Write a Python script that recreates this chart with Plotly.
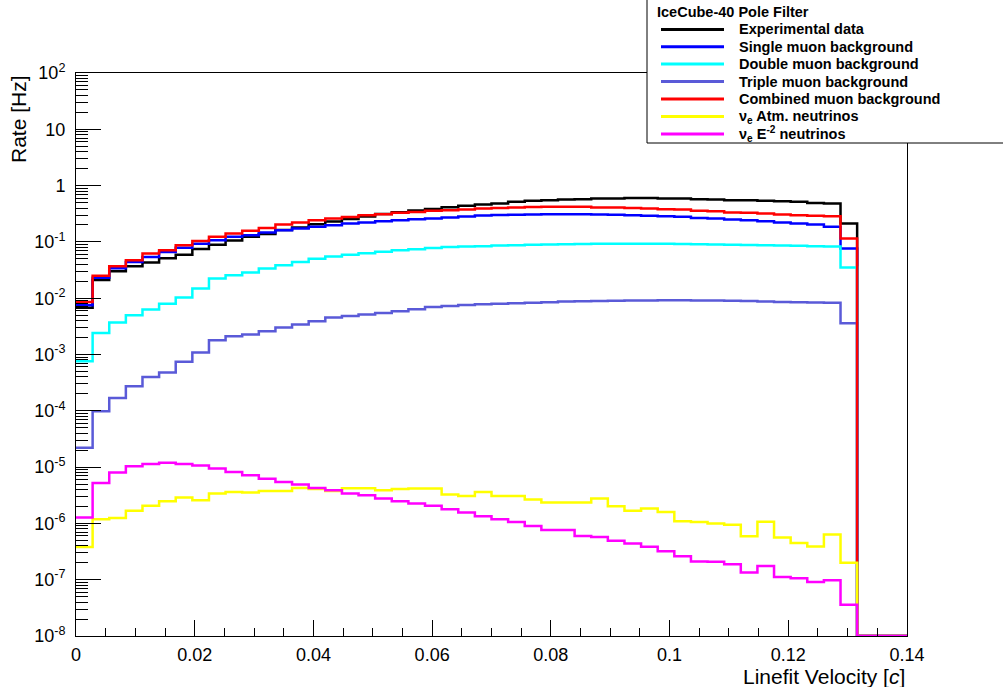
import numpy as np
import plotly.graph_objects as go

# Binning: 50 bins of linefit velocity between 0 and 0.14 c
bin_lo, bin_hi, n_bins = 0.0, 0.14, 50
edges = np.linspace(bin_lo, bin_hi, n_bins + 1)

# Rates per bin [Hz]; the last three bins are empty
experimental = [0.0068, 0.021, 0.030, 0.037, 0.043, 0.051, 0.059, 0.075, 0.089, 0.106,
                0.123, 0.138, 0.162, 0.18, 0.205, 0.23, 0.255, 0.282, 0.314, 0.337,
                0.36, 0.385, 0.412, 0.44, 0.461, 0.480, 0.514, 0.536, 0.551, 0.566,
                0.573, 0.589, 0.589, 0.605, 0.605, 0.589, 0.589, 0.573, 0.566, 0.551,
                0.551, 0.536, 0.529, 0.514, 0.493, 0.480, 0.212, 0, 0, 0]
single_mu = [0.0075, 0.023, 0.034, 0.044, 0.054, 0.066, 0.079, 0.093, 0.107, 0.123,
             0.131, 0.147, 0.161, 0.173, 0.185, 0.198, 0.212, 0.221, 0.233, 0.243,
             0.253, 0.26, 0.27, 0.283, 0.293, 0.300, 0.304, 0.307, 0.310, 0.310,
             0.310, 0.306, 0.304, 0.298, 0.290, 0.286, 0.279, 0.267, 0.260, 0.249,
             0.243, 0.233, 0.221, 0.212, 0.204, 0.185, 0.076, 0, 0, 0]
double_mu = [0.00076, 0.0024, 0.0037, 0.005, 0.0063, 0.008, 0.0103, 0.0149, 0.0224, 0.0256,
             0.0286, 0.0337, 0.0386, 0.044, 0.05, 0.055, 0.059, 0.063, 0.067, 0.071,
             0.074, 0.078, 0.081, 0.083, 0.084, 0.086, 0.087, 0.089, 0.090, 0.091,
             0.092, 0.093, 0.093, 0.093, 0.093, 0.093, 0.092, 0.091, 0.090, 0.089,
             0.088, 0.087, 0.086, 0.085, 0.084, 0.083, 0.035, 0, 0, 0]
triple_mu = [2.2e-5, 9.8e-5, 1.69e-4, 2.73e-4, 4.0e-4, 4.8e-4, 7.4e-4, 1.08e-3, 1.8e-3, 2.11e-3,
             2.26e-3, 2.59e-3, 3.01e-3, 3.4e-3, 3.9e-3, 4.54e-3, 4.85e-3, 5.13e-3, 5.48e-3, 5.87e-3,
             6.37e-3, 7.0e-3, 7.3e-3, 7.6e-3, 7.8e-3, 8.0e-3, 8.1e-3, 8.3e-3, 8.5e-3, 8.7e-3,
             8.8e-3, 8.9e-3, 9.0e-3, 9.1e-3, 9.1e-3, 9.2e-3, 9.2e-3, 9.1e-3, 9.1e-3, 9.0e-3,
             8.9e-3, 8.7e-3, 8.6e-3, 8.5e-3, 8.4e-3, 8.3e-3, 3.6e-3, 0, 0, 0]
combined_mu = [0.0086, 0.025, 0.037, 0.047, 0.062, 0.071, 0.087, 0.104, 0.123, 0.141,
               0.157, 0.177, 0.204, 0.221, 0.243, 0.26, 0.278, 0.298, 0.31, 0.328,
               0.341, 0.356, 0.366, 0.378, 0.39, 0.402, 0.407, 0.415, 0.419, 0.419,
               0.419, 0.41, 0.407, 0.402, 0.392, 0.381, 0.376, 0.356, 0.351, 0.333,
               0.328, 0.319, 0.306, 0.298, 0.290, 0.286, 0.115, 0, 0, 0]
nue_atm = [3.8e-7, 1.19e-6, 1.25e-6, 1.67e-6, 2.05e-6, 2.48e-6, 2.88e-6, 2.58e-6, 3.4e-6, 3.63e-6,
           3.55e-6, 3.78e-6, 3.78e-6, 4.27e-6, 4.07e-6, 3.78e-6, 4.2e-6, 4.2e-6, 3.89e-6, 4.07e-6,
           4.15e-6, 4.15e-6, 3.26e-6, 3.08e-6, 3.63e-6, 3.08e-6, 3.08e-6, 2.65e-6, 2.35e-6, 2.35e-6,
           2.35e-6, 2.77e-6, 2.02e-6, 1.67e-6, 1.84e-6, 1.60e-6, 1.09e-6, 1.06e-6, 1.0e-6, 9.5e-7,
           5.9e-7, 1.07e-6, 5.6e-7, 4.5e-7, 3.9e-7, 6.35e-7, 2.0e-7, 0, 0, 0]
nue_e2 = [1.27e-6, 5.2e-6, 8.0e-6, 1.04e-5, 1.13e-5, 1.19e-5, 1.13e-5, 1.07e-5, 9.4e-6, 8.2e-6,
          7.2e-6, 6.2e-6, 5.46e-6, 4.9e-6, 4.27e-6, 3.89e-6, 3.4e-6, 3.17e-6, 2.77e-6, 2.48e-6,
          2.25e-6, 2.05e-6, 1.79e-6, 1.56e-6, 1.34e-6, 1.19e-6, 1.06e-6, 9.0e-7, 7.6e-7, 7.6e-7,
          6.0e-7, 5.75e-7, 4.9e-7, 4.4e-7, 3.83e-7, 3.21e-7, 2.61e-7, 2.1e-7, 2.08e-7, 1.88e-7,
          1.34e-7, 1.76e-7, 1.12e-7, 1.06e-7, 9.1e-8, 9.8e-8, 3.6e-8, 0, 0, 0]

series = [
    ("Experimental data", experimental, "#000000"),
    ("Single muon background", single_mu, "#0000ff"),
    ("Double muon background", double_mu, "#00ffff"),
    ("Triple muon background", triple_mu, "#5a5ad8"),
    ("Combined muon background", combined_mu, "#ff0000"),
    ("ν<sub>e</sub> Atm. neutrinos", nue_atm, "#ffff00"),
    ("ν<sub>e</sub> E<sup>-2</sup> neutrinos", nue_e2, "#ff00ff"),
]

y_min_exp, y_max_exp = -8, 2
y_floor = 10.0 ** y_min_exp

x_ticks = [0, 0.02, 0.04, 0.06, 0.08, 0.1, 0.12, 0.14]
x_tick_text = ["0", "0.02", "0.04", "0.06", "0.08", "0.1", "0.12", "0.14"]
y_ticks = [10.0 ** e for e in range(y_min_exp, y_max_exp + 1)]
y_tick_text = ["10<sup>-8</sup>", "10<sup>-7</sup>", "10<sup>-6</sup>", "10<sup>-5</sup>",
               "10<sup>-4</sup>", "10<sup>-3</sup>", "10<sup>-2</sup>", "10<sup>-1</sup>",
               "1", "10", "10<sup>2</sup>"]
y_minor = [k * 10.0 ** e for e in range(y_min_exp, y_max_exp) for k in range(2, 10)]

fig = go.Figure()

for name, vals, color in series:
    # step outline of the histogram; empty bins sit on the bottom of the frame
    v = [max(val, y_floor) for val in vals]
    xs = list(edges[:-1]) + [edges[-1]]
    ys = v + [v[-1]]
    fig.add_trace(go.Scatter(
        x=xs, y=ys, mode="lines", name=name,
        line=dict(color=color, width=2.5, shape="hv"),
        showlegend=False, hoverinfo="skip",
    ))

# plot frame in pixels
L, R, T, B = 76, 907, 73, 636
W, H = 1003, 687


def px_x(p):
    return (p - L) / (R - L)


def px_y(p):
    return (B - p) / (B - T)


tick_font = dict(family="Liberation Sans, Arial, sans-serif", size=18, color="black")

fig.update_layout(
    width=W, height=H,
    margin=dict(l=L, r=W - R, t=T, b=H - B),
    paper_bgcolor="white", plot_bgcolor="white",
    showlegend=False,
    xaxis=dict(
        range=[bin_lo, bin_hi], showgrid=False, zeroline=False,
        showline=True, linecolor="black", linewidth=1, mirror=True,
        ticks="inside", ticklen=16, tickwidth=1, tickcolor="black",
        tickmode="array", tickvals=x_ticks, ticktext=x_tick_text,
        tickfont=tick_font, ticklabelstandoff=2,
        minor=dict(ticks="inside", ticklen=8, tickwidth=1, tickcolor="black",
                   dtick=0.005, tick0=0, showgrid=False),
    ),
    yaxis=dict(
        type="log", range=[y_min_exp, y_max_exp], showgrid=False, zeroline=False,
        showline=True, linecolor="black", linewidth=1, mirror=True,
        ticks="inside", ticklen=25, tickwidth=1, tickcolor="black",
        tickmode="array", tickvals=y_ticks, ticktext=y_tick_text,
        tickfont=tick_font, ticklabelstandoff=6,
        minor=dict(ticks="inside", ticklen=12, tickwidth=1, tickcolor="black",
                   tickmode="array", tickvals=y_minor, showgrid=False),
    ),
)

# axis titles
fig.add_annotation(
    text="Rate [Hz]", textangle=-90, showarrow=False,
    xref="paper", yref="paper", x=px_x(18), y=px_y(73),
    xanchor="center", yanchor="top",
    font=dict(family="Liberation Sans, Arial, sans-serif", size=21, color="black"),
)
fig.add_annotation(
    text="Linefit Velocity [<i>c</i>]", showarrow=False,
    xref="paper", yref="paper", x=px_x(907), y=px_y(676),
    xanchor="right", yanchor="middle",
    font=dict(family="Liberation Sans, Arial, sans-serif", size=21, color="black"),
)

# legend box
fig.add_shape(
    type="rect", xref="paper", yref="paper",
    x0=px_x(647), x1=px_x(1015), y0=px_y(143), y1=px_y(-5),
    line=dict(color="black", width=1), fillcolor="white", layer="above",
)
legend_font = dict(family="Liberation Sans, Arial, sans-serif", size=14.5, color="black")
fig.add_annotation(
    text="<b>IceCube-40 Pole Filter</b>", showarrow=False,
    xref="paper", yref="paper", x=px_x(655), y=px_y(12),
    xanchor="left", yanchor="middle", font=legend_font,
)
row_y = [29.5, 46.8, 64, 81.5, 99, 116.5, 134]
for (name, vals, color), ry in zip(series, row_y):
    fig.add_shape(
        type="line", xref="paper", yref="paper",
        x0=px_x(661), x1=px_x(724), y0=px_y(ry), y1=px_y(ry),
        line=dict(color=color, width=3), layer="above",
    )
    fig.add_annotation(
        text="<b>" + name + "</b>", showarrow=False,
        xref="paper", yref="paper", x=px_x(737), y=px_y(ry),
        xanchor="left", yanchor="middle", font=legend_font,
    )

fig.write_html("out.html")
